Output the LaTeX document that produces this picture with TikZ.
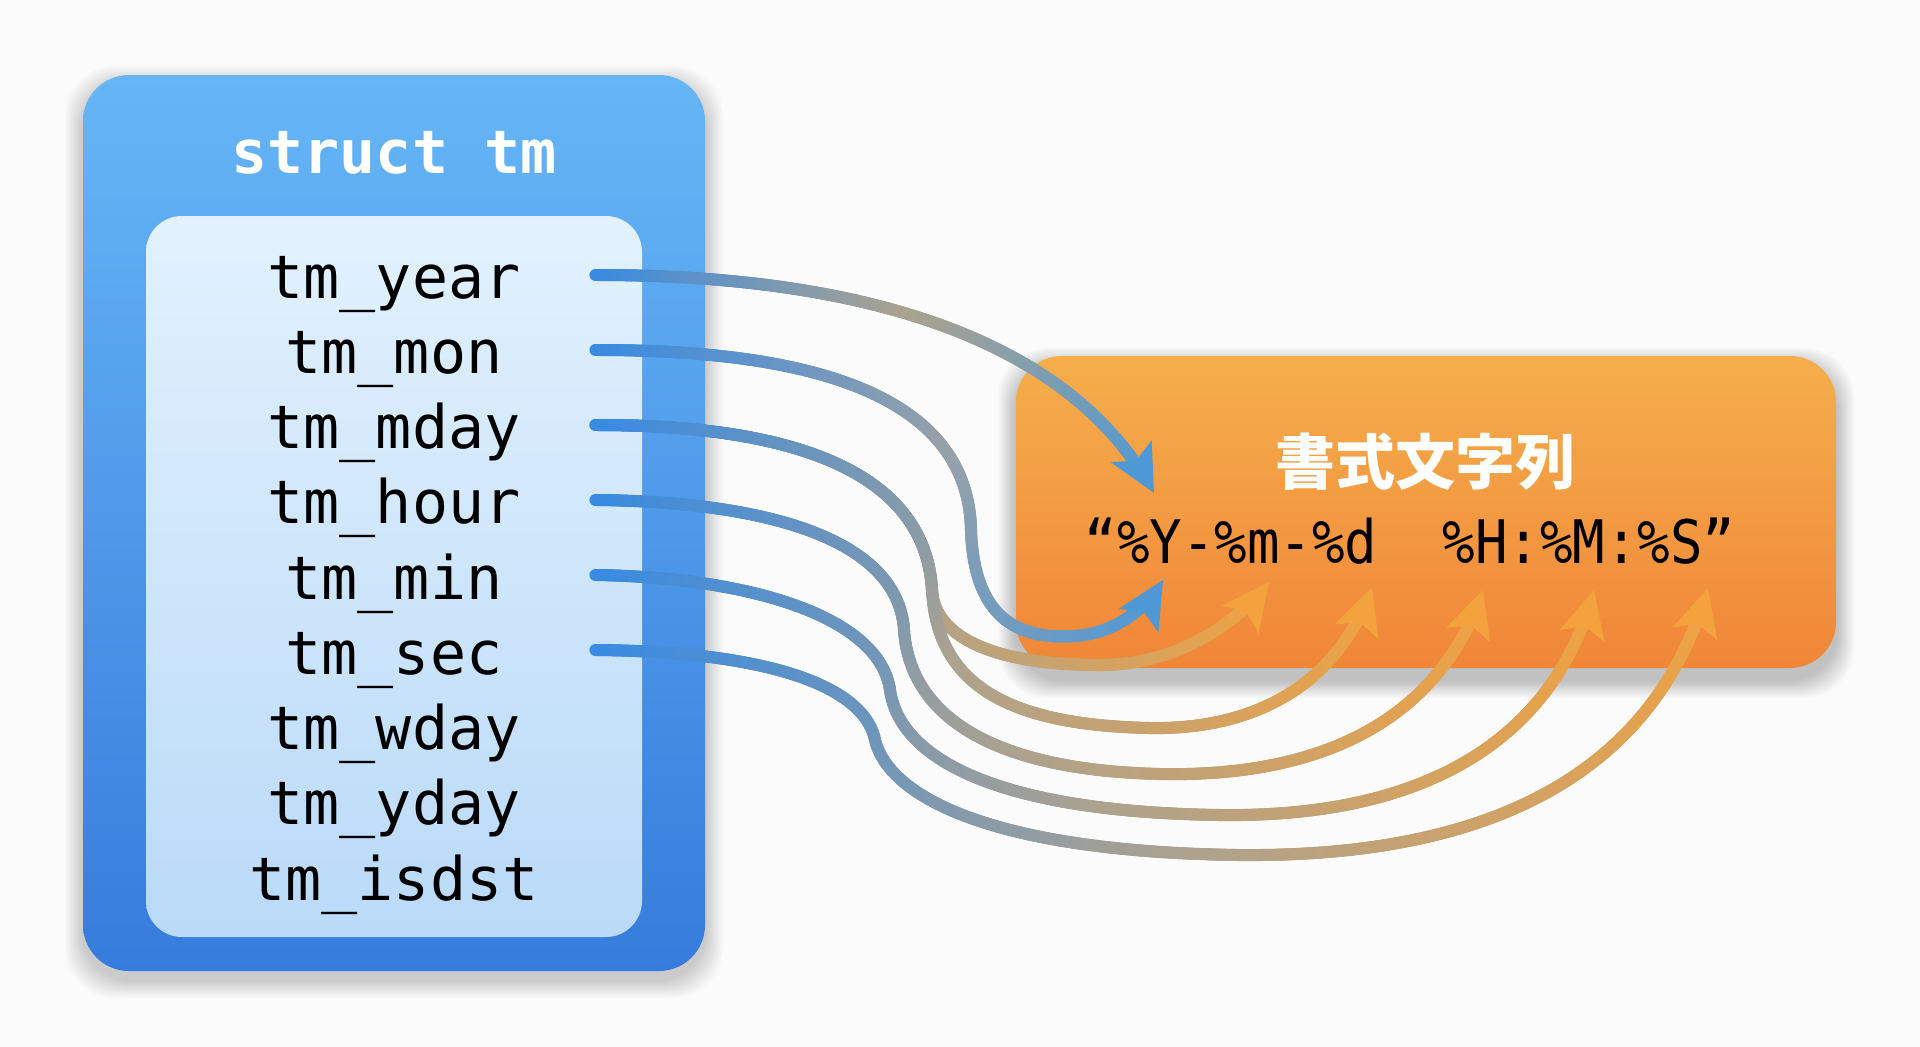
\documentclass[tikz,border=0pt]{standalone}
\usepackage{fontspec}
\setmonofont{DejaVu Sans Mono}
\newfontfamily\cjk{Noto Sans CJK JP}
\usetikzlibrary{decorations.markings,calc}
\definecolor{bgc}{RGB}{251,251,251}
\definecolor{boxtop}{RGB}{102,182,246}
\definecolor{boxbot}{RGB}{54,124,220}
\definecolor{intop}{RGB}{226,241,253}
\definecolor{inbot}{RGB}{186,218,248}
\definecolor{ortop}{RGB}{245,174,76}
\definecolor{orbot}{RGB}{240,134,56}
\definecolor{fblue}{RGB}{56,138,226}
\definecolor{fmid}{RGB}{172,162,143}
\definecolor{fgray}{RGB}{152,160,168}
\definecolor{forange}{RGB}{243,162,62}
\definecolor{fblueend}{RGB}{78,152,214}
\tikzset{
  flow/.style n args={3}{
    decoration={markings,
      mark=between positions 0 and -30pt step 2.5pt with {
        \pgfmathsetmacro\flowp{\pgfkeysvalueof{/pgf/decoration/mark info/distance from start}/\pgfdecoratedpathlength}%
        \ifdim\flowp pt<0.5pt
          \pgfmathtruncatemacro\flowq{200*\flowp}%
          \colorlet{flowc}{#2!\flowq!#1}%
        \else
          \pgfmathtruncatemacro\flowq{200*\flowp-100}%
          \colorlet{flowc}{#3!\flowq!#2}%
        \fi
        \draw[flowc, line width=12pt, line cap=round] (-1.6pt,0pt) -- (1.6pt,0pt);
      }
    },
    decorate
  },
  boxnode/.style={inner sep=0pt, outer sep=0pt, draw=none},
  fieldtext/.style={font=\ttfamily\fontsize{60}{72}\selectfont, anchor=base, inner sep=0pt, text=black},
  titletext/.style={font=\ttfamily\bfseries\fontsize{60}{72}\selectfont, anchor=base, inner sep=0pt},
}
\newcommand\headat[3]{% tip, control, colour
  \fill[#3] (#1) -- ($(#1)!53pt!26:(#2)$) -- ($(#1)!37pt!(#2)$) -- ($(#1)!53pt!-26:(#2)$) -- cycle;
}
\begin{document}
\begin{tikzpicture}[x=1pt,y=-1pt]
\fill[bgc] (0,0) rectangle (1920,1047);
\useasboundingbox (0,0) rectangle (1920,1047);
% shadows
\foreach \i in {1,...,12} {
  \fill[black, opacity=0.014, rounded corners=50pt] (83-1.5*\i, 84-1.5*\i) rectangle (705+1.5*\i, 980+1.5*\i);
  \fill[black, opacity=0.018, rounded corners=50pt] (1016-1.5*\i, 366-1.5*\i) rectangle (1836+1.5*\i, 680+1.5*\i);
}
% boxes
\node[boxnode, minimum width=622pt, minimum height=896pt, rounded corners=46pt, top color=boxtop, bottom color=boxbot] (outer) at (394,523) {};
\node[boxnode, minimum width=496pt, minimum height=721pt, rounded corners=36pt, top color=intop, bottom color=inbot] (inner) at (394,576.5) {};
\node[boxnode, minimum width=820pt, minimum height=312pt, rounded corners=46pt, top color=ortop, bottom color=orbot] (fmt) at (1426,512) {};
% title
\node[titletext, text=white] (title) at (394,173) {struct tm};
% fields
\node[fieldtext] (f1) at (394,298) {tm\_year};
\node[fieldtext] (f2) at (394,373.25) {tm\_mon};
\node[fieldtext] (f3) at (394,448.5) {tm\_mday};
\node[fieldtext] (f4) at (394,523.75) {tm\_hour};
\node[fieldtext] (f5) at (394,599) {tm\_min};
\node[fieldtext] (f6) at (394,674.25) {tm\_sec};
\node[fieldtext] (f7) at (394,749.5) {tm\_wday};
\node[fieldtext] (f8) at (394,824.75) {tm\_yday};
\node[fieldtext] (f9) at (394,900) {tm\_isdst};
% format box texts
\node[font=\cjk\bfseries\fontsize{60}{72}\selectfont, text=white, inner sep=0pt] (fmttitle) at (1425,462) {書式文字列};
\node[font=\ttfamily\fontsize{60}{72}\selectfont, anchor=base, inner sep=0pt, xscale=0.9, transform shape] (fmtstr) at (1410,563) {“\%Y-\%m-\%d\ \ \%H:\%M:\%S”};
% connector coordinates
\coordinate (s1) at (597,275);
\coordinate (s2) at (597,350);
\coordinate (s3) at (597,425);
\coordinate (s4) at (597,500);
\coordinate (s5) at (597,575);
\coordinate (s6) at (597,650);
\coordinate (tY) at (1154,493);   \coordinate (cY) at (1060,320);
\coordinate (tYb) at (1163,580);  \coordinate (cYb) at (1145,610);
\coordinate (tm) at (1269,582);   \coordinate (cm) at (1240,620);
\coordinate (td) at (1372,587);   \coordinate (cd) at (1340,680);
\coordinate (tH) at (1483,590);   \coordinate (cH) at (1450,690);
\coordinate (tM) at (1594,590);   \coordinate (cM) at (1560,720);
\coordinate (tS) at (1708,588);   \coordinate (cS) at (1670,720);
\coordinate (split) at (932,590);
% connectors
\path[flow={fblue}{fmid}{fblueend}] (s1) .. controls (820,275) and (cY) .. (tY);
\path[flow={fblue}{fgray}{fblueend}] (s2) .. controls (800,350) and (968,390) .. (971,530) .. controls (974,620) and (1020,640) .. (1075,636) .. controls (1115,633) and (cYb) .. (tYb);
\path[flow={fblue}{fmid}{forange}] (s3) .. controls (790,425) and (925,470) .. (split) .. controls (935,640) and (1000,665) .. (1100,665) .. controls (1180,665) and (cm) .. (tm);
\path[flow={fblue}{fmid}{forange}] (s3) .. controls (790,425) and (925,470) .. (split) .. controls (937,680) and (1000,725) .. (1150,728) .. controls (1260,730) and (cd) .. (td);
\path[flow={fblue}{fmid}{forange}] (s4) .. controls (770,502) and (898,540) .. (904,630) .. controls (910,715) and (990,770) .. (1160,774) .. controls (1360,778) and (cH) .. (tH);
\path[flow={fblue}{fmid}{forange}] (s5) .. controls (760,578) and (880,620) .. (890,690) .. controls (900,760) and (1000,812) .. (1220,815) .. controls (1450,818) and (cM) .. (tM);
\path[flow={fblue}{fmid}{forange}] (s6) .. controls (780,652) and (865,690) .. (875,740) .. controls (890,800) and (1000,852) .. (1240,855) .. controls (1560,858) and (cS) .. (tS);
% arrowheads
\headat{tY}{cY}{fblueend}
\headat{tYb}{cYb}{fblueend}
\headat{tm}{cm}{forange}
\headat{td}{cd}{forange}
\headat{tH}{cH}{forange}
\headat{tM}{cM}{forange}
\headat{tS}{cS}{forange}
\end{tikzpicture}
\end{document}
